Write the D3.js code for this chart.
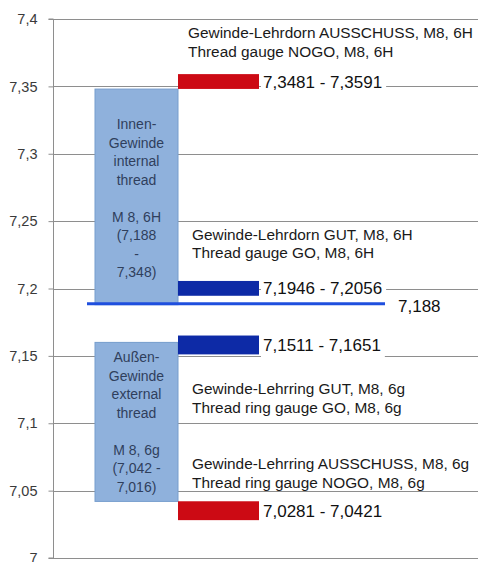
<!DOCTYPE html>
<html><head><meta charset="utf-8">
<script src="https://cdn.jsdelivr.net/npm/d3@7"></script>
<style>
html,body{margin:0;padding:0;background:#fff;}
svg{display:block;font-family:"Liberation Sans",Arial,sans-serif;}
</style></head>
<body>
<svg id="c" width="478" height="562"></svg>
<script>
// ---- data ----
const yTicks = [7, 7.05, 7.1, 7.15, 7.2, 7.25, 7.3, 7.35, 7.4];
const yTickLabels = ["7", "7,05", "7,1", "7,15", "7,2", "7,25", "7,3", "7,35", "7,4"];
const columns = ["Gewinde", "Lehre"];

const threadLow  = [7.188, 7.042];
const threadHigh = [7.348, 7.160];
const threadText = [
  ["Innen-", "Gewinde", "internal", "thread", "", "M 8, 6H", "(7,188", "-", "7,348)"],
  ["Außen-", "Gewinde", "external", "thread", "", "M 8, 6g", "(7,042 -", "7,016)"]
];

const gaugeLow   = [7.3481, 7.1946, 7.1511, 7.0281];
const gaugeHigh  = [7.3591, 7.2056, 7.1651, 7.0421];
const gaugeKind  = ["NOGO", "GO", "GO", "NOGO"];
const gaugeValueText = ["7,3481 - 7,3591", "7,1946 - 7,2056", "7,1511 - 7,1651", "7,0281 - 7,0421"];
const gaugeDesc = [
  ["Gewinde-Lehrdorn AUSSCHUSS, M8, 6H", "Thread gauge NOGO, M8, 6H"],
  ["Gewinde-Lehrdorn GUT, M8, 6H", "Thread gauge GO, M8, 6H"],
  ["Gewinde-Lehrring GUT, M8, 6g", "Thread ring gauge GO, M8, 6g"],
  ["Gewinde-Lehrring AUSSCHUSS, M8, 6g", "Thread ring gauge NOGO, M8, 6g"]
];
const nominal = 7.188;
const nominalText = "7,188";

// ---- layout (pixels) ----
const descDy = [-41, -46, 35, -37];   // centre of first description line relative to bar edge
const descX  = [188, 192, 192, 192];

const svg = d3.select("#c");
const y = d3.scaleLinear().domain([7, 7.4]).range([558, 19]);
const x = d3.scaleBand().domain(columns).range([95, 261]).paddingInner(0);
const axisX = 53, rightX = 478;

// gridlines
svg.append("g").selectAll("line").data(yTicks).join("line")
  .attr("x1", axisX).attr("x2", rightX)
  .attr("y1", d => Math.round(y(d)) + 0.5).attr("y2", d => Math.round(y(d)) + 0.5)
  .attr("stroke", "#8e8e8e").attr("stroke-width", 1.2);

// axis
const axis = d3.axisLeft(y).tickValues(yTicks).tickSize(5).tickPadding(11)
  .tickFormat((d, i) => yTickLabels[i]);
const ag = svg.append("g").attr("transform", `translate(${axisX + 0.5},0)`).call(axis);
ag.select(".domain").attr("stroke", "#8e8e8e").attr("d", `M-5,${y(7.4)}H0V${y(7)}H-5`);
ag.selectAll(".tick line").attr("stroke", "#8e8e8e");
ag.selectAll(".tick text").attr("fill", "#3a3a3a").style("font-size", "14.5px")
  .style("font-family", "'Liberation Sans',Arial,sans-serif");

// thread boxes
const tb = svg.append("g");
tb.selectAll("rect").data(threadLow).join("rect")
  .attr("x", x("Gewinde")).attr("width", x.bandwidth())
  .attr("y", (d, i) => y(threadHigh[i])).attr("height", (d, i) => y(threadLow[i]) - y(threadHigh[i]))
  .attr("fill", "#8fb1dc").attr("stroke", "#769dcd").attr("stroke-width", 1);

threadText.forEach((lines, i) => {
  const top = y(threadHigh[i]);
  const start = i === 0 ? top + 35 : top + 15;
  const t = svg.append("text").attr("text-anchor", "middle")
    .attr("fill", "#2f3f5c").style("font-size", "14px");
  lines.forEach((ln, j) => {
    t.append("tspan").attr("x", x("Gewinde") + x.bandwidth() / 2)
      .attr("y", start + j * 18.5 + 5).text(ln);
  });
});

// gauge bars
const gauges = d3.range(gaugeLow.length);
svg.append("g").selectAll("rect").data(gauges).join("rect")
  .attr("x", x("Lehre")).attr("width", x.bandwidth() - 2)
  .attr("y", i => y(gaugeHigh[i])).attr("height", i => y(gaugeLow[i]) - y(gaugeHigh[i]))
  .attr("fill", i => gaugeKind[i] === "NOGO" ? "#cc0a14" : "#0d2aa6");

// nominal line
svg.append("line")
  .attr("x1", 87).attr("x2", 385)
  .attr("y1", y(nominal) - 1).attr("y2", y(nominal) - 1)
  .attr("stroke", "#1f4fde").attr("stroke-width", 3);

// value labels with white background
gauges.forEach(i => {
  const cy = (y(gaugeHigh[i]) + y(gaugeLow[i])) / 2;
  const g = svg.append("g");
  const t = g.append("text").attr("x", x("Lehre") + x.bandwidth() + 2).attr("y", cy + 6)
    .attr("fill", "#111").style("font-size", "17px").text(gaugeValueText[i]);
  const bb = t.node().getBBox();
  g.insert("rect", "text").attr("x", bb.x - 2).attr("y", bb.y - 1)
    .attr("width", bb.width + 6).attr("height", bb.height + 4).attr("fill", "#fff");
});

// nominal label
svg.append("text").attr("x", 398).attr("y", y(nominal) + 7)
  .attr("fill", "#111").style("font-size", "17px").text(nominalText);

// descriptions
gauges.forEach(i => {
  const edge = descDy[i] < 0 ? y(gaugeHigh[i]) : y(gaugeLow[i]);
  const t = svg.append("text").attr("fill", "#1a1a1a").style("font-size", "15.4px");
  gaugeDesc[i].forEach((ln, j) => {
    t.append("tspan").attr("x", descX[i]).attr("y", edge + descDy[i] + j * 18.5 + 5).text(ln);
  });
});
</script>
</body></html>
